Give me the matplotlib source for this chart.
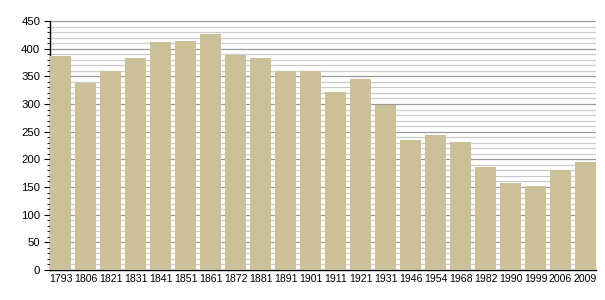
import matplotlib
matplotlib.use("Agg")
import matplotlib.pyplot as plt
from matplotlib.ticker import MultipleLocator

years = ["1793", "1806", "1821", "1831", "1841", "1851", "1861", "1872", "1881", "1891", "1901",
         "1911", "1921", "1931", "1946", "1954", "1968", "1982", "1990", "1999", "2006", "2009"]
population = [387, 338, 360, 383, 412, 414, 427, 389, 383, 359, 360,
              322, 345, 299, 235, 244, 231, 186, 158, 152, 180, 195]

plt.rcParams['font.family'] = ['Liberation Sans', 'DejaVu Sans']

fig = plt.figure(figsize=(6.05, 3.0), dpi=100)
ax = fig.add_axes([50/605, 30/300, 546/605, 249/300])

w = 0.84
x = list(range(len(years)))
ax.bar(x, population, width=w, color="#cbc098", zorder=3)

ax.set_xlim(-w/2, len(years) - 1 + w/2)
ax.set_ylim(0, 450)
ax.set_xticks(x)
ax.set_xticklabels(years, fontsize=7.6)
ax.yaxis.set_major_locator(MultipleLocator(50))
ax.yaxis.set_minor_locator(MultipleLocator(10))
ax.tick_params(axis='y', which='major', labelsize=8.2, length=4, width=0.8, pad=3)
ax.tick_params(axis='y', which='minor', length=2, width=0.6)
ax.tick_params(axis='x', length=0, pad=3)
ax.grid(axis='y', which='major', color='#999999', linewidth=0.9, zorder=0)
ax.grid(axis='y', which='minor', color='#cccccc', linewidth=0.9, zorder=0)
for s in ['top', 'right']:
    ax.spines[s].set_visible(False)
ax.spines['left'].set_linewidth(1.0)
ax.spines['bottom'].set_linewidth(1.0)
ax.set_axisbelow(True)

fig.savefig("out.png", dpi=100)
